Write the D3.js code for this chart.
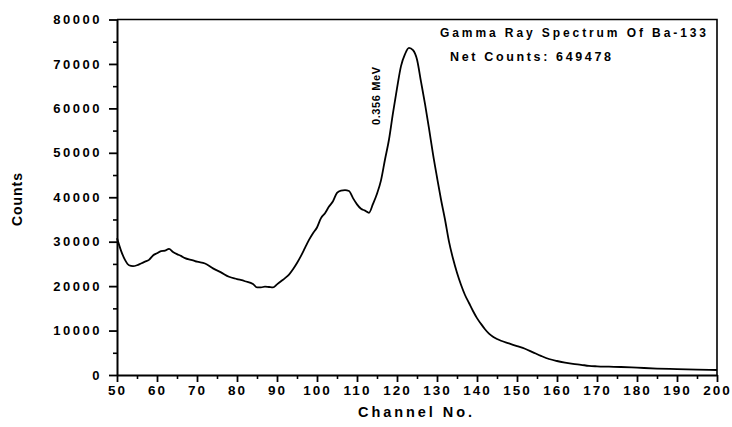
<html>
<head>
  <script src="https://d3js.org/d3.v7.min.js"></script>
  <style>
  body { margin: 0; background: #fff; }
  text { font-family: "Liberation Sans", Arial, sans-serif; font-weight: bold; fill: #000; }
  .axis text { font-size: 13.5px; letter-spacing: 2px; }
  .yaxis text { font-size: 13px; letter-spacing: 2.5px; }
  .axis line, .axis path { stroke: #000; }
  </style>
</head>
<body>
<div id="chart"></div>
<script type="text/javascript">

// channel numbers and counts
const channels = [50,51,52,53,54,55,56,57,58,59,60,61,62,63,64,65,66,67,68,69,70,72,74,76,78,80,82,84,85,86,87,88,89,90,
  91,92,93,94,95,96,97,98,99,100,101,102,103,104,105,106,107,108,109,110,111,112,113,114,115,116,117,118,119,120,
  121,122,123,124,125,126,127,128,129,130,131,132,133,134,135,136,137,138,139,140,141,142,143,144,145,146,148,150,
  152,154,156,158,160,162,164,166,168,170,173,176,180,185,190,195,200];
const counts = [30800,28000,25900,24700,24500,24700,25100,25500,25900,26900,27400,27900,28000,28400,27700,27200,26800,26300,26000,25800,25500,25100,24000,23100,22100,21600,21100,20500,19700,19700,19900,19800,19700,20400,
  21100,21800,22600,23800,25200,26800,28600,30400,31900,33200,35300,36400,37900,39100,41000,41500,41600,41400,39800,38400,37400,37000,36500,38500,40800,43800,48500,53000,59000,64500,
  69500,72200,73600,73100,71000,66000,61000,55500,49700,44500,39500,35000,30000,26200,23000,20300,18000,16200,14400,12800,11500,10300,9300,8600,8100,7700,7100,6500,
  5900,5100,4300,3600,3150,2800,2500,2300,2050,1950,1870,1800,1650,1450,1320,1200,1120];

const xTicks = [50,60,70,80,90,100,110,120,130,140,150,160,170,180,190,200];
const xMinor = [55,65,75,85,95,105,115,125,135,145,155,165,175,185,195];
const yTicks = [0,10000,20000,30000,40000,50000,60000,70000,80000];
const yMinor = [5000,15000,25000,35000,45000,55000,65000,75000];

const titleText = "Gamma Ray Spectrum Of Ba-133";
const netText = "Net Counts: 649478";
const peakLabel = "0.356 MeV";

const svg = d3.select("#chart").append("svg")
  .attr("width", 732)
  .attr("height", 427);

const margin = { top: 19.5, bottom: 52, left: 117, right: 15 };
const x = d3.scaleLinear().domain([50, 200]).range([margin.left, 732 - margin.right]);
const y = d3.scaleLinear().domain([0, 80000]).range([427 - margin.bottom, margin.top]);

// frame top and right
svg.append("path")
  .attr("d", `M${x(50)},${y(80000)}H${x(200)}V${y(0)}`)
  .attr("fill", "none")
  .attr("stroke", "#000")
  .attr("stroke-width", 1.6);

// minor ticks
svg.append("g").attr("class", "axis")
  .attr("transform", `translate(0,${y(0)})`)
  .call(d3.axisBottom(x).tickValues(xMinor).tickSize(4).tickFormat(""))
  .call(g => g.select(".domain").remove())
  .selectAll("line").attr("stroke-width", 1.6);
svg.append("g").attr("class", "axis")
  .attr("transform", `translate(${x(50)},0)`)
  .call(d3.axisLeft(y).tickValues(yMinor).tickSize(4).tickFormat(""))
  .call(g => g.select(".domain").remove())
  .selectAll("line").attr("stroke-width", 1.6);

// major axes
const xAxis = svg.append("g").attr("class", "axis")
  .attr("transform", `translate(0,${y(0)})`)
  .call(d3.axisBottom(x).tickValues(xTicks).tickSize(7).tickSizeOuter(0).tickPadding(3.5).tickFormat(d3.format("d")));
xAxis.select(".domain").attr("stroke-width", 2);
xAxis.selectAll("line").attr("stroke-width", 1.8);

const yAxis = svg.append("g").attr("class", "axis yaxis")
  .attr("transform", `translate(${x(50)},0)`)
  .call(d3.axisLeft(y).tickValues(yTicks).tickSize(8).tickSizeOuter(0).tickPadding(7).tickFormat(d3.format("d")));
yAxis.select(".domain").attr("stroke-width", 2);
yAxis.selectAll("line").attr("stroke-width", 1.8);

// spectrum line
const data = channels.map((c, i) => ({ ch: c, v: counts[i] }));
const line = d3.line()
  .x(d => x(d.ch))
  .y(d => y(d.v))
  .curve(d3.curveMonotoneX);

svg.append("path")
  .datum(data)
  .attr("fill", "none")
  .attr("stroke", "#000")
  .attr("stroke-width", 1.8)
  .attr("stroke-linejoin", "round")
  .attr("d", line);

// axis titles
svg.append("text")
  .attr("x", 358).attr("y", 417)
  .attr("textLength", 114).attr("lengthAdjust", "spacing")
  .style("font-size", "14.5px")
  .text("Channel No.");

svg.append("text")
  .attr("transform", "translate(22,226) rotate(-90)")
  .attr("textLength", 53).attr("lengthAdjust", "spacing")
  .style("font-size", "14px")
  .text("Counts");

// title block
svg.append("text")
  .attr("x", 440).attr("y", 37)
  .attr("textLength", 266).attr("lengthAdjust", "spacing")
  .style("font-size", "12px")
  .text(titleText);

svg.append("text")
  .attr("x", 450).attr("y", 60.5)
  .attr("textLength", 161).attr("lengthAdjust", "spacing")
  .style("font-size", "12.5px")
  .text(netText);

// peak annotation
svg.append("text")
  .attr("transform", "translate(379.5,125) rotate(-90)")
  .attr("textLength", 58).attr("lengthAdjust", "spacing")
  .style("font-size", "11px")
  .text(peakLabel);

</script>
</body>
</html>
